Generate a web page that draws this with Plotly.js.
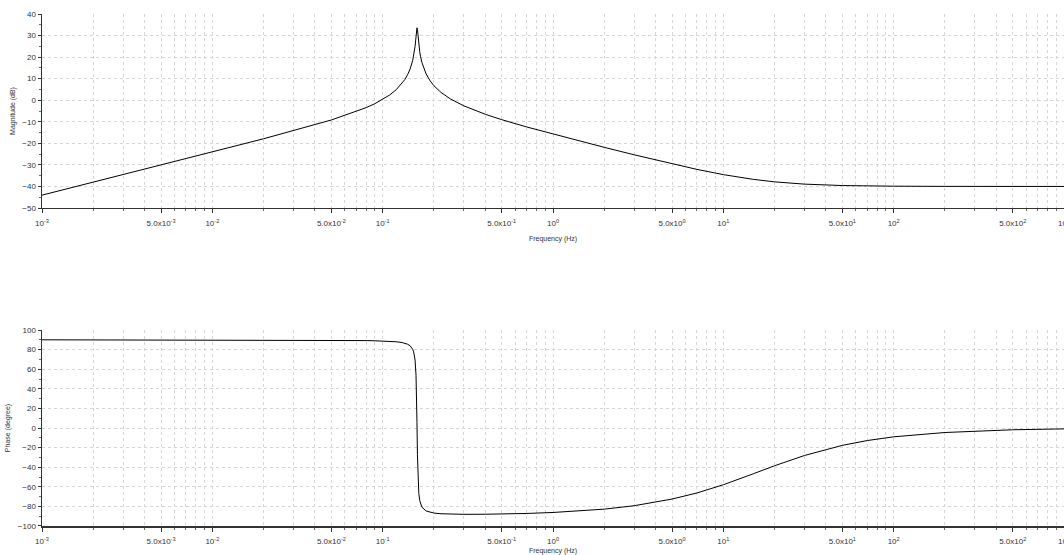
<!DOCTYPE html>
<html><head><meta charset="utf-8">
<script src="https://cdn.plot.ly/plotly-3.0.1.min.js"></script>
<style>html,body{margin:0;padding:0;background:#fff;overflow:hidden}#chart{width:1064px;height:555px}</style>
</head><body><div id="chart"></div>
<script>
const freqHz = [0.001,0.002,0.005,0.01,0.02,0.05,0.07,0.08,0.09,0.1,0.11,0.12,0.13,0.135,0.14,0.145,0.15,0.152,0.155,0.157,0.158,0.159,0.16,0.161,0.163,0.165,0.167,0.17,0.18,0.19,0.2,0.22,0.25,0.3,0.4,0.5,0.7,1,2,3,5,7,10,15,20,30,50,70,100,200,500,1000];
const magnitudeDb = [-44.04,-38.02,-30.05,-24.0,-17.88,-9.16,-5.26,-3.44,-1.60,0.32,2.43,4.85,7.80,9.61,11.80,14.53,18.40,20.52,24.95,29.42,32.14,33.6,32.91,30.31,25.72,22.51,20.15,17.49,12.16,8.97,6.72,3.62,0.59,-2.63,-6.51,-9.02,-12.40,-15.72,-21.86,-25.33,-29.53,-32.09,-34.52,-36.72,-37.88,-38.93,-39.58,-39.79,-39.89,-39.97,-40.0,-40.0];
const phaseDeg = [90,89.99,89.97,89.93,89.86,89.6,89.4,89.2,89.0,88.8,88.5,88.0,87.2,86.5,85.5,83.9,80.4,77.7,69.3,53.7,36.1,5.5,-27.3,-48.4,-66.7,-73.9,-77.7,-80.8,-84.7,-86.1,-86.8,-87.5,-87.9,-88.1,-88.0,-87.8,-87.2,-86.2,-82.8,-79.3,-72.5,-66.3,-57.9,-46.7,-38.5,-28.0,-17.7,-12.8,-9.0,-4.6,-1.8,-0.9];

const xTickVals = [1e-3,5e-3,1e-2,5e-2,1e-1,5e-1,1,5,10,50,100,500,1000];
const xTickText = ['10<sup>-3</sup>','5.0x10<sup>-3</sup>','10<sup>-2</sup>','5.0x10<sup>-2</sup>','10<sup>-1</sup>','5.0x10<sup>-1</sup>','10<sup>0</sup>','5.0x10<sup>0</sup>','10<sup>1</sup>','5.0x10<sup>1</sup>','10<sup>2</sup>','5.0x10<sup>2</sup>','10<sup>3</sup>'];
const magTicks = [-50,-40,-30,-20,-10,0,10,20,30,40];
const phaseTicks = [-100,-80,-60,-40,-20,0,20,40,60,80,100];

const decades = [-3,-2,-1,0,1,2];
const minorX = [];
decades.forEach(d => [2,3,4,5,6,7,8,9].forEach(m => minorX.push(m*Math.pow(10,d))));

const gridCol = '#d6d6d6';
const gridDash = '3px,3px';
const tickFont = {family:'Liberation Sans, Arial, sans-serif', size:8, color:'#333'};
const titleFont = {family:'Liberation Sans, Arial, sans-serif', size:7, color:'#333'};

function xAxis(anchor, standoff){
  return {
    type:'log', range:[-3,3], anchor:anchor,
    tickmode:'array', tickvals:xTickVals, ticktext:xTickText,
    ticks:'outside', ticklen:4, tickcolor:'#333', tickwidth:1,
    ticklabelstandoff:3, ticklabeloverflow:'allow',
    showgrid:true, gridcolor:gridCol, griddash:gridDash, gridwidth:1,
    minor:{tickmode:'array', tickvals:minorX, ticks:'outside', ticklen:2, tickcolor:'#666', showgrid:true, gridcolor:gridCol, griddash:gridDash, gridwidth:1},
    showline:true, linecolor:'#333', linewidth:1.5, zeroline:false,
    tickfont:tickFont,
    title:{text:'Frequency (Hz)', font:titleFont, standoff:standoff}
  };
}
function yAxis(anchor, domain, range, ticks, title, minorDt){
  return {
    anchor:anchor, domain:domain, range:range,
    tickmode:'array', tickvals:ticks,
    ticks:'outside', ticklen:3, tickcolor:'#333',
    showgrid:true, gridcolor:gridCol, griddash:gridDash, gridwidth:1,
    minor:{dtick:minorDt, ticks:'outside', ticklen:2, tickcolor:'#666', showgrid:false},
    showline:true, linecolor:'#333', linewidth:1.5, zeroline:false,
    tickfont:tickFont,
    title:{text:title, font:titleFont, standoff:6}
  };
}

const data = [
  {x:freqHz, y:magnitudeDb, xaxis:'x', yaxis:'y', mode:'lines', line:{color:'#000', width:1}, hoverinfo:'skip'},
  {x:freqHz, y:phaseDeg, xaxis:'x2', yaxis:'y2', mode:'lines', line:{color:'#000', width:1}, hoverinfo:'skip'}
];

const layout = {
  width:1064, height:555,
  margin:{l:42, r:0, t:14, b:29},
  paper_bgcolor:'#fff', plot_bgcolor:'#fff',
  showlegend:false,
  xaxis: xAxis('y', 9),
  yaxis: yAxis('x', [0.6211,1], [-50,40], magTicks, 'Magnitude (dB)', 5),
  xaxis2: xAxis('y2', 6),
  yaxis2: yAxis('x2', [0,0.3828], [-100,100], phaseTicks, 'Phase (degree)', 10)
};

Plotly.newPlot('chart', data, layout, {staticPlot:true, displayModeBar:false});
</script></body></html>
